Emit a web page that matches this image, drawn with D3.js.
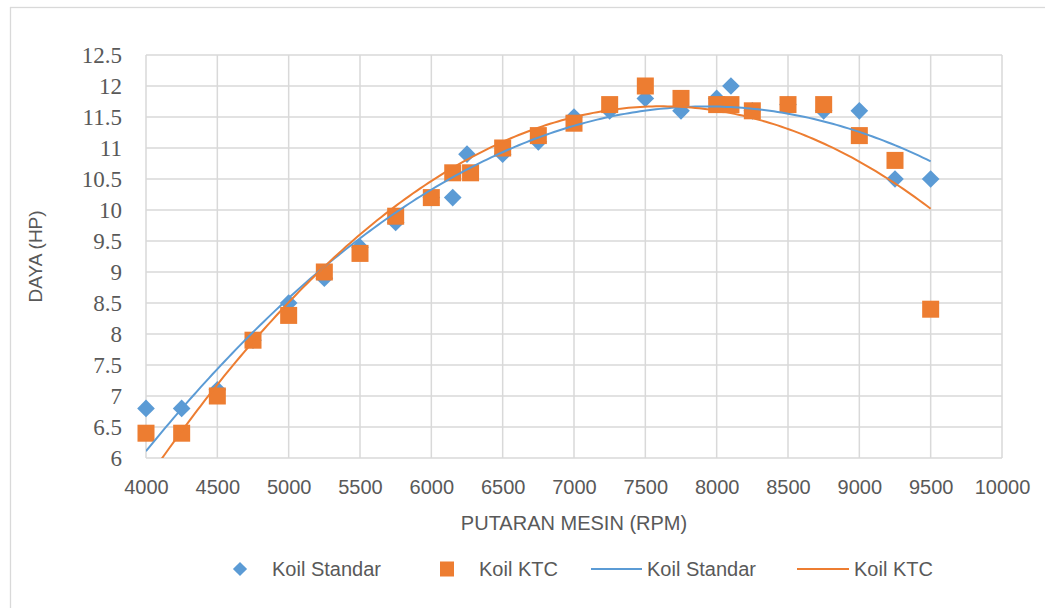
<!DOCTYPE html>
<html>
<head>
<meta charset="utf-8">
<script src="https://cdn.jsdelivr.net/npm/d3@7/dist/d3.min.js"></script>
<style>
  html, body { margin: 0; padding: 0; background: #ffffff; }
  svg { display: block; }
</style>
</head>
<body>
<svg id="chart" width="1045" height="608"></svg>
<script>
// ---- Data ----
const standarRpm = [4000, 4250, 4500, 4750, 5000, 5250, 5500, 5750, 6000, 6150, 6250, 6500, 6750, 7000, 7250, 7500, 7750, 8000, 8100, 8250, 8500, 8750, 9000, 9250, 9500];
const standarHp  = [6.8, 6.8, 7.1, 7.9, 8.5, 8.9, 9.4, 9.8, 10.2, 10.2, 10.9, 10.9, 11.1, 11.5, 11.6, 11.8, 11.6, 11.8, 12.0, 11.6, 11.7, 11.6, 11.6, 10.5, 10.5];
const ktcRpm = [4000, 4250, 4500, 4750, 5000, 5250, 5500, 5750, 6000, 6150, 6275, 6500, 6750, 7000, 7250, 7500, 7750, 8000, 8100, 8250, 8500, 8750, 9000, 9250, 9500];
const ktcHp  = [6.4, 6.4, 7.0, 7.9, 8.3, 9.0, 9.3, 9.9, 10.2, 10.6, 10.6, 11.0, 11.2, 11.4, 11.7, 12.0, 11.8, 11.7, 11.7, 11.6, 11.7, 11.7, 11.2, 10.8, 8.4];
const xTicks = [4000, 4500, 5000, 5500, 6000, 6500, 7000, 7500, 8000, 8500, 9000, 9500, 10000];
const yTicks = [6, 6.5, 7, 7.5, 8, 8.5, 9, 9.5, 10, 10.5, 11, 11.5, 12, 12.5];
const seriesNames = ["Koil Standar", "Koil KTC"];
const xTitle = "PUTARAN MESIN (RPM)";
const yTitle = "DAYA (HP)";

// ---- Layout ----
const W = 1045, H = 608;
const plot = { left: 146, right: 1002, top: 55, bottom: 458 };
const colors = { standar: "#5B9BD5", ktc: "#ED7D31" };
const gridColor = "#d9d9d9";
const textColor = "#595959";

const svg = d3.select("#chart");

// chart border
svg.append("rect")
  .attr("x", 10.5).attr("y", 7.5)
  .attr("width", W + 20).attr("height", H + 20)
  .attr("fill", "#fff").attr("stroke", gridColor).attr("stroke-width", 1.3);

const x = d3.scaleLinear().domain([4000, 10000]).range([plot.left, plot.right]);
const y = d3.scaleLinear().domain([6, 12.5]).range([plot.bottom, plot.top]);

// gridlines
const grid = svg.append("g");
grid.selectAll("line.h").data(yTicks).join("line")
  .attr("x1", plot.left).attr("x2", plot.right)
  .attr("y1", d => y(d)).attr("y2", d => y(d))
  .attr("stroke", gridColor).attr("stroke-width", 1.5);
grid.selectAll("line.v").data(xTicks).join("line")
  .attr("y1", plot.top).attr("y2", plot.bottom)
  .attr("x1", d => x(d)).attr("x2", d => x(d))
  .attr("stroke", gridColor).attr("stroke-width", 1.5);

// axes (labels only)
const xAxis = d3.axisBottom(x).tickValues(xTicks).tickSize(0).tickPadding(22).tickFormat(d3.format("d"));
const gx = svg.append("g").attr("transform", `translate(0,${plot.bottom})`).call(xAxis);
gx.select(".domain").remove();
gx.selectAll("text").attr("fill", textColor)
  .style("font-family", "'Liberation Sans', Arial, sans-serif").style("font-size", "20px");

const yAxis = d3.axisLeft(y).tickValues(yTicks).tickSize(0).tickPadding(24).tickFormat(d => String(d));
const gy = svg.append("g").attr("transform", `translate(${plot.left},0)`).call(yAxis);
gy.select(".domain").remove();
gy.selectAll("text").attr("fill", textColor)
  .style("font-family", "'Liberation Serif', 'Times New Roman', serif").style("font-size", "23px");

// axis titles
svg.append("text")
  .attr("x", (plot.left + plot.right) / 2).attr("y", 530)
  .attr("text-anchor", "middle").attr("fill", textColor)
  .style("font-family", "'Liberation Sans', Arial, sans-serif").style("font-size", "20px")
  .text(xTitle);
svg.append("text")
  .attr("transform", `translate(42,${(plot.top + plot.bottom) / 2}) rotate(-90)`)
  .attr("text-anchor", "middle").attr("fill", textColor)
  .style("font-family", "'Liberation Sans', Arial, sans-serif").style("font-size", "19px")
  .text(yTitle);

// markers
const diamond = d3.symbol().type(d3.symbolSquare).size(12.5 * 12.5);
const standarPts = standarRpm.map((r, i) => ({ r, v: standarHp[i] }));
const ktcPts = ktcRpm.map((r, i) => ({ r, v: ktcHp[i] }));

svg.append("g").selectAll("path").data(standarPts).join("path")
  .attr("d", diamond)
  .attr("transform", d => `translate(${x(d.r)},${y(d.v)}) rotate(45)`)
  .attr("fill", colors.standar);

const sq = 17;
svg.append("g").selectAll("rect").data(ktcPts).join("rect")
  .attr("x", d => x(d.r) - sq / 2).attr("y", d => y(d.v) - sq / 2)
  .attr("width", sq).attr("height", sq)
  .attr("fill", colors.ktc);

// polynomial (order 2) least-squares trendlines, as the spreadsheet computes them
function quadFit(xs, ys) {
  const n = xs.length;
  const mx = d3.mean(xs), sx = 1000;
  const u = xs.map(v => (v - mx) / sx);
  let s = [0, 0, 0, 0, 0], t = [0, 0, 0];
  for (let i = 0; i < n; i++) {
    let p = 1;
    for (let k = 0; k < 5; k++) { s[k] += p; p *= u[i]; }
    t[0] += ys[i]; t[1] += ys[i] * u[i]; t[2] += ys[i] * u[i] * u[i];
  }
  const A = [[s[0], s[1], s[2], t[0]], [s[1], s[2], s[3], t[1]], [s[2], s[3], s[4], t[2]]];
  for (let c = 0; c < 3; c++) {
    for (let r = c + 1; r < 3; r++) {
      const f = A[r][c] / A[c][c];
      for (let k = c; k < 4; k++) A[r][k] -= f * A[c][k];
    }
  }
  const b = [0, 0, 0];
  for (let r = 2; r >= 0; r--) {
    let sum = A[r][3];
    for (let k = r + 1; k < 3; k++) sum -= A[r][k] * b[k];
    b[r] = sum / A[r][r];
  }
  return v => { const uu = (v - mx) / sx; return b[0] + b[1] * uu + b[2] * uu * uu; };
}

svg.append("defs").append("clipPath").attr("id", "plotclip")
  .append("rect").attr("x", plot.left).attr("y", plot.top)
  .attr("width", plot.right - plot.left).attr("height", plot.bottom - plot.top);

function trend(xs, ys, color) {
  const f = quadFit(xs, ys);
  const lo = d3.min(xs), hi = d3.max(xs);
  const samples = d3.range(0, 201).map(i => lo + (hi - lo) * i / 200);
  const line = d3.line().x(d => x(d)).y(d => y(f(d)));
  svg.append("path").datum(samples)
    .attr("clip-path", "url(#plotclip)")
    .attr("d", line).attr("fill", "none")
    .attr("stroke", color).attr("stroke-width", 2);
}
trend(standarRpm, standarHp, colors.standar);
trend(ktcRpm, ktcHp, colors.ktc);

// legend
const legY = 569;
const lg = svg.append("g")
  .style("font-family", "'Liberation Sans', Arial, sans-serif").style("font-size", "20px");
lg.append("path").attr("d", d3.symbol().type(d3.symbolSquare).size(10 * 10))
  .attr("transform", `translate(240,${legY}) rotate(45)`).attr("fill", colors.standar);
lg.append("text").attr("x", 272).attr("y", legY).attr("dy", "0.35em").attr("fill", textColor).text(seriesNames[0]);
lg.append("rect").attr("x", 440).attr("y", legY - 7.5).attr("width", 14).attr("height", 15).attr("fill", colors.ktc);
lg.append("text").attr("x", 479).attr("y", legY).attr("dy", "0.35em").attr("fill", textColor).text(seriesNames[1]);
lg.append("line").attr("x1", 591).attr("x2", 642).attr("y1", legY).attr("y2", legY)
  .attr("stroke", colors.standar).attr("stroke-width", 2);
lg.append("text").attr("x", 647).attr("y", legY).attr("dy", "0.35em").attr("fill", textColor).text(seriesNames[0]);
lg.append("line").attr("x1", 797).attr("x2", 849).attr("y1", legY).attr("y2", legY)
  .attr("stroke", colors.ktc).attr("stroke-width", 2);
lg.append("text").attr("x", 854).attr("y", legY).attr("dy", "0.35em").attr("fill", textColor).text(seriesNames[1]);
</script>
</body>
</html>
